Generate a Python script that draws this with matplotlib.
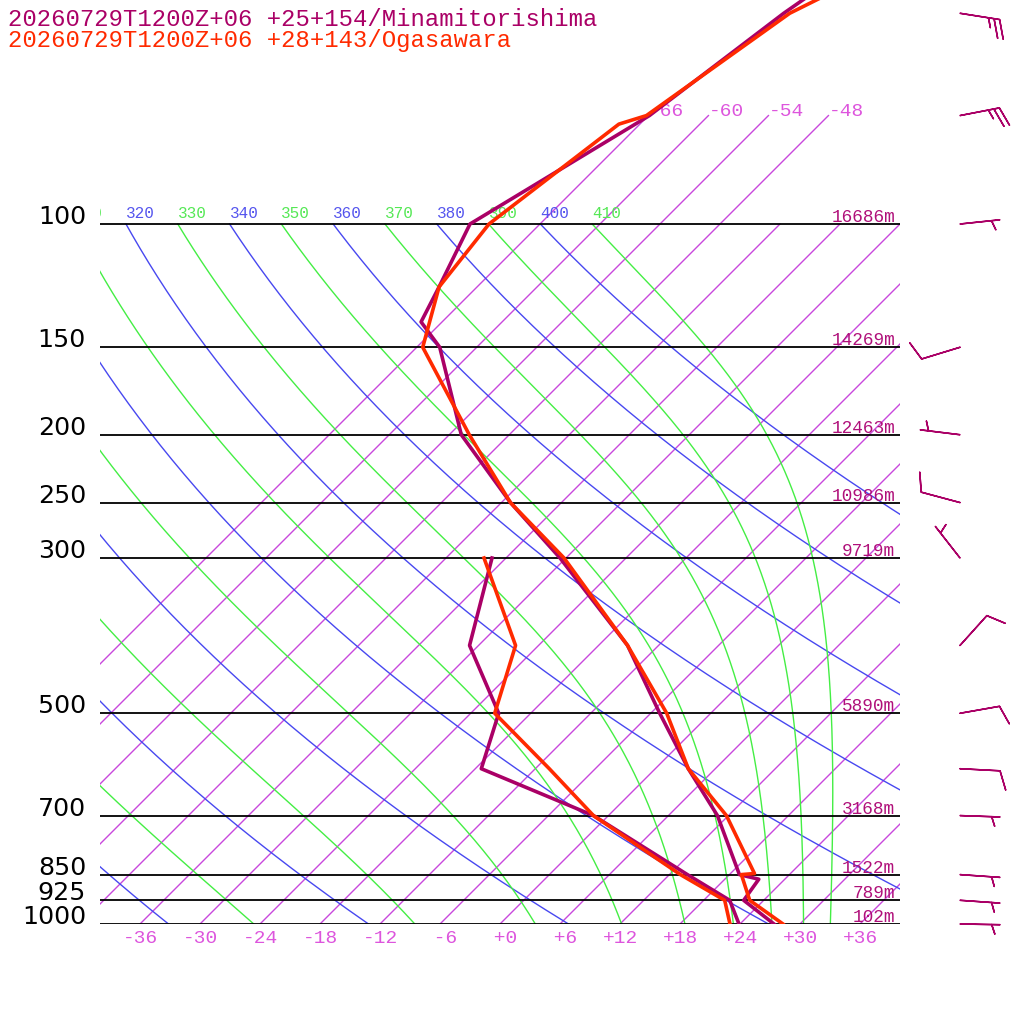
import numpy as np
import matplotlib
matplotlib.use("Agg")
import matplotlib.pyplot as plt
import matplotlib.transforms as mtransforms

# ---------------- data ----------------
title_minami = "20260729T1200Z+06 +25+154/Minamitorishima"
title_oga = "20260729T1200Z+06 +28+143/Ogasawara"

# Minamitorishima temperature / dewpoint (hPa, degC)
mina_t_p = [1000, 925, 863, 850, 700, 600, 500, 400, 300, 250, 200, 150, 138, 123, 100, 70, 50, 30]
mina_t = [27.4, 22.0, 21.4, 19.0, 10.9, 3.3, -5.1, -15.1, -30.6, -41.1, -52.8, -63.7, -68.1,
          -69.8, -73.0, -65.9, -62.7, -56.0]
mina_td_p = [1000, 925, 850, 700, 600, 500, 400, 300]
mina_td = [23.9, 20.6, 13.8, -1.5, -17.4, -21.2, -30.9, -37.4]

# Ogasawara temperature / dewpoint
oga_t_p = [1000, 925, 850, 847, 700, 600, 500, 400, 300, 250, 200, 150, 123, 100, 72, 70, 50, 30]
oga_t = [28.3, 22.6, 19.2, 20.4, 11.8, 3.3, -4.4, -15.1, -30.2, -41.1, -52.0, -65.4, -69.8,
         -71.1, -68.1, -66.2, -62.1, -46.5]
oga_td_p = [1000, 925, 850, 700, 600, 500, 400, 300]
oga_td = [23.0, 20.1, 13.1, -1.5, -10.6, -21.6, -26.3, -38.2]

# standard levels and geopotential heights (Minamitorishima)
std_levels = [1000, 925, 850, 700, 500, 300, 250, 200, 150, 100]
heights_m = [102, 789, 1522, 3168, 5890, 9719, 10986, 12463, 14269, 16686]

# winds (Minamitorishima)
wind_p = [1000, 925, 850, 700, 600, 500, 400, 300, 250, 200, 150, 100, 70, 50]
wind_dir = [91, 94, 94, 92, 93, 80, 42, 322, 285, 277, 253, 84, 79, 99]
wind_kt = [5, 5, 5, 5, 10, 10, 10, 5, 10, 5, 10, 5, 25, 25]

# background diagram lines
isotherms = list(range(-66, 37, 6))
bottom_iso_labels = list(range(-36, 37, 6))
dry_theta = list(range(240, 401, 20))
moist_theta = list(range(250, 411, 20))

# ---------------- style ----------------
C_MINA = "#aa0066"
C_OGA = "#ff2a00"
C_ISO = "#c848dc"
C_DRY = "#4848f0"
C_MOIST = "#44ee44"
C_HGT = "#b0107a"
MONO = "Liberation Mono"

fig = plt.figure(figsize=(10.24, 10.24), dpi=100)
ax = fig.add_axes([100 / 1024, 100 / 1024, 800 / 1024, 924 / 1024])
P_BOT = 1000.0
P_TOP = 1000.0 * 10 ** (-924 / 700)
ax.set_yscale("log")
ax.set_ylim(P_BOT, P_TOP)
ax.set_xlim(-40, 40)
ax.set_autoscale_on(False)
ax.set_axis_off()

skew = mtransforms.Affine2D().skew(np.arctan(924 / 800), 0)
tskew = ax.transScale + ax.transLimits + skew + ax.transAxes
blend = mtransforms.blended_transform_factory(ax.transAxes, ax.transData)

KAPPA = 0.2857
LABEL_MIN_T = -115  # labels further left are entirely outside the diagram

# isotherms
for t in isotherms:
    ptop = 70 if t <= -48 else 100
    ax.plot([t, t], [1000, ptop], color=C_ISO, lw=1.0, transform=tskew, zorder=1)
    if t <= -48:
        ax.text(t, 70, f"{t:d}", transform=tskew, ha="left", va="baseline",
                color="#dd55dd", fontsize=14, family=MONO, clip_on=True)

# dry adiabats
pp = np.geomspace(1000, 100, 200)
for th in dry_theta:
    tt = th * (pp / 1000.0) ** KAPPA - 273.15
    ax.plot(tt, pp, color=C_DRY, lw=1.0, transform=tskew, zorder=1)
    t100 = th * 0.1 ** KAPPA - 273.15
    if t100 > LABEL_MIN_T:
        ax.text(t100, 100, str(th), ha="left", va="baseline", color="#5555ee", fontsize=11.5,
                family=MONO, clip_on=True,
                transform=mtransforms.offset_copy(tskew, fig=fig, x=0, y=6, units="dots"))


# moist (pseudo) adiabats, integrated downward from 100 hPa
def moist_dtdp(T, p):
    Rd, Cp, Lv, eps = 287.04, 1005.7, 2.501e6, 0.622
    tc = T - 273.15
    es = 6.112 * np.exp(17.67 * tc / (tc + 243.5))
    rs = eps * es / (p - es)
    return (Rd * T + Lv * rs) / (Cp + Lv ** 2 * rs * eps / (Rd * T ** 2)) / p


pm = np.geomspace(100, 1000, 400)
for th in moist_theta:
    T = th * 0.1 ** KAPPA
    temps = [T]
    for i in range(len(pm) - 1):
        p0, dp = pm[i], pm[i + 1] - pm[i]
        k1 = moist_dtdp(T, p0)
        k2 = moist_dtdp(T + 0.5 * dp * k1, p0 + 0.5 * dp)
        k3 = moist_dtdp(T + 0.5 * dp * k2, p0 + 0.5 * dp)
        k4 = moist_dtdp(T + dp * k3, p0 + dp)
        T = T + dp * (k1 + 2 * k2 + 2 * k3 + k4) / 6
        temps.append(T)
    ax.plot(np.array(temps) - 273.15, pm, color=C_MOIST, lw=1.0, transform=tskew, zorder=1)
    t100 = th * 0.1 ** KAPPA - 273.15
    if t100 > LABEL_MIN_T:
        ax.text(t100, 100, str(th), ha="left", va="baseline", color="#55e855", fontsize=11.5,
                family=MONO, clip_on=True,
                transform=mtransforms.offset_copy(tskew, fig=fig, x=0, y=6, units="dots"))

# isobars
ax.hlines(std_levels, -40, 40, color="black", lw=1.3, zorder=2)

# bottom isotherm labels
for t in bottom_iso_labels:
    ax.text(t, 1000, f"{t:+3d}", ha="center", va="baseline", color="#dd55dd", fontsize=14,
            family=MONO, clip_on=False,
            transform=mtransforms.offset_copy(ax.transData, fig=fig, x=0, y=-19, units="dots"))

# pressure labels
for p in std_levels:
    ax.text(-0.0175, p, str(p), transform=blend, ha="right", va="baseline",
            fontsize=18.2, family="DejaVu Sans", color="black", clip_on=False)

# height labels
for p, h in zip(std_levels, heights_m):
    ax.text(0.994, p, f"{h}m", ha="right", va="baseline", fontsize=12.8, family=MONO,
            color=C_HGT, clip_on=False,
            transform=mtransforms.offset_copy(blend, fig=fig, x=0, y=2, units="dots"))

# profiles
ax.plot(mina_t, mina_t_p, color=C_MINA, lw=2.6, transform=tskew, zorder=5)
ax.plot(mina_td, mina_td_p, color=C_MINA, lw=2.6, transform=tskew, zorder=5)
ax.plot(oga_t, oga_t_p, color=C_OGA, lw=2.6, transform=tskew, zorder=6)
ax.plot(oga_td, oga_td_p, color=C_OGA, lw=2.6, transform=tskew, zorder=6)

# wind barbs
wd = np.deg2rad(np.array(wind_dir, dtype=float))
ws = np.array(wind_kt, dtype=float)
u = -ws * np.sin(wd)
v = -ws * np.cos(wd)
ax.barbs(np.full(len(wind_p), 1.075), wind_p, u, v, transform=blend, length=7.6,
         pivot="tip", color=C_MINA, linewidth=1.1, clip_on=False,
         sizes=dict(spacing=0.14, height=0.47, width=0.33))

# titles
fig.text(8 / 1024, 1 - 26 / 1024, title_minami, color=C_MINA, fontsize=17.2, family=MONO,
         va="baseline", ha="left")
fig.text(8 / 1024, 1 - 47.5 / 1024, title_oga, color=C_OGA, fontsize=17.2, family=MONO,
         va="baseline", ha="left")

fig.savefig("out.png", dpi=100, facecolor="white")
